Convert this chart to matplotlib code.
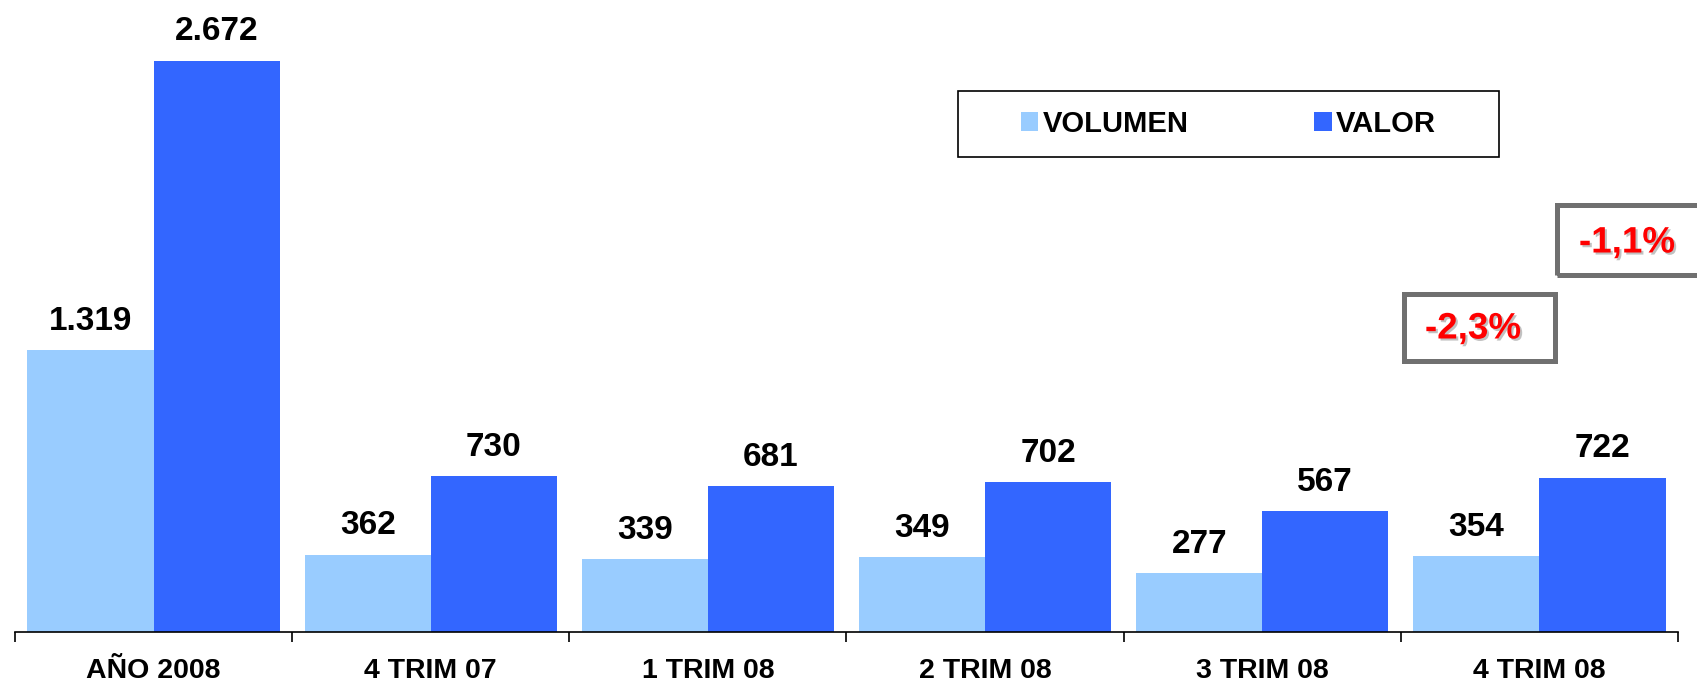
import matplotlib
matplotlib.use("Agg")
import matplotlib.pyplot as plt
import matplotlib.patheffects as pe
from matplotlib.patches import Rectangle
import numpy as np

plt.rcParams['font.family'] = ['Liberation Sans', 'DejaVu Sans']
plt.rcParams['font.weight'] = 'bold'

categories = ["AÑO 2008", "4 TRIM 07", "1 TRIM 08", "2 TRIM 08", "3 TRIM 08", "4 TRIM 08"]
volumen = [1319, 362, 339, 349, 277, 354]
valor = [2672, 730, 681, 702, 567, 722]
pct_labels = ["-1,1%", "-2,3%"]

c_vol = "#99CCFF"
c_val = "#3366FF"

W, H = 1697, 688
fig = plt.figure(figsize=(W / 100, H / 100), dpi=100)
ax = fig.add_axes([15 / W, (H - 632) / H, 1663 / W, 632 / H])

x = np.arange(len(categories))
bw = 0.455
b1 = ax.bar(x - bw / 2, volumen, bw, color=c_vol, label="VOLUMEN")
b2 = ax.bar(x + bw / 2, valor, bw, color=c_val, label="VALOR")


def fmt(v):
    return "{:,}".format(v).replace(",", ".")


for bars, vals in [(b1, volumen), (b2, valor)]:
    for r, v in zip(bars, vals):
        ax.annotate(fmt(v), (r.get_x() + r.get_width() / 2, r.get_height()),
                    xytext=(0, 9.5), textcoords="offset points",
                    ha="center", va="bottom", fontsize=24, fontweight="bold")

ax.set_xlim(-0.5, len(categories) - 0.5)
ax.set_ylim(0, 2955)
for s in ["top", "right", "left"]:
    ax.spines[s].set_visible(False)
ax.spines["bottom"].set_linewidth(1.2)
ax.set_yticks([])
ax.set_xticks(x)
ax.set_xticklabels(categories, fontsize=20.5, fontweight="bold")
ax.tick_params(axis="x", which="major", length=0, pad=19)
ax.set_xticks(np.arange(-0.5, len(categories)), minor=True)
ax.tick_params(axis="x", which="minor", length=7, width=1.2, direction="out")

# legend box
fig.patches.append(Rectangle((958 / W, (H - 157) / H), 541 / W, 66 / H,
                             transform=fig.transFigure, fill=False,
                             edgecolor="black", linewidth=1.2))
fig.legend(handles=[b1, b2], loc="center",
           bbox_to_anchor=((958 + 541 / 2) / W, (H - 124) / H),
           ncol=2, frameon=False, borderpad=0,
           columnspacing=4.3, handletextpad=0.15, handlelength=0.6,
           handleheight=0.6, prop={"weight": "bold", "size": 21})

# percentage boxes
boxes = [(1557, 205, 160, 70), (1404, 294, 151, 67)]
centers = [(1627, 243), (1473, 329)]
for (bx, by, bwid, bh), (cx, cy), t in zip(boxes, centers, pct_labels):
    fig.patches.append(Rectangle((bx / W, (H - by - bh) / H), bwid / W, bh / H,
                                 transform=fig.transFigure, fill=False,
                                 edgecolor="#707070", linewidth=3.6))
    fig.text(cx / W, (H - cy) / H, t, color="red", fontsize=26.5,
             fontweight="bold", ha="center", va="center",
             path_effects=[pe.SimplePatchShadow(offset=(1.5, -1.5), shadow_rgbFace="#999999", alpha=0.6),
                           pe.Normal()])

fig.savefig("out.png", dpi=100)
